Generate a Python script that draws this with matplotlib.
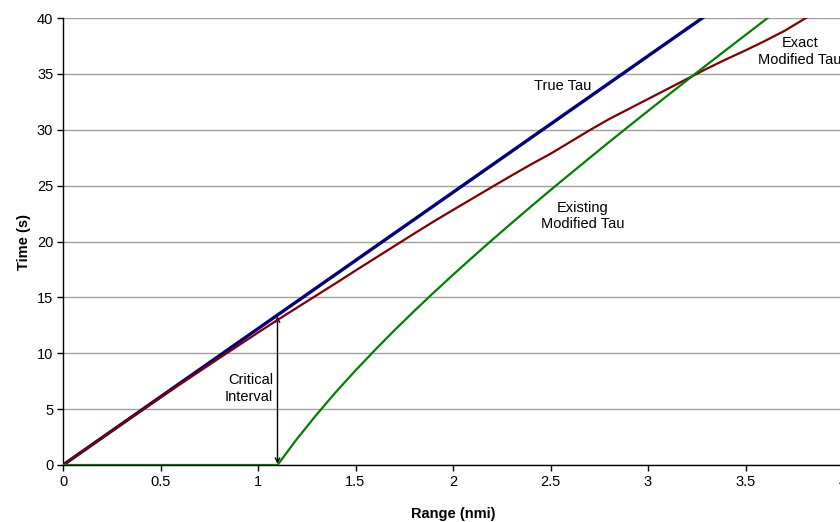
import matplotlib
matplotlib.use("Agg")
from matplotlib import pyplot as plt

plt.rcParams['font.family'] = ['Liberation Sans', 'DejaVu Sans']

# range (nmi)
rng = [0.0, 0.1, 0.2, 0.3, 0.4, 0.5, 0.6, 0.7, 0.8, 0.9, 1.0,
       1.1, 1.2, 1.3, 1.4, 1.5, 1.6, 1.7, 1.8, 1.9, 2.0,
       2.1, 2.2, 2.3, 2.4, 2.5, 2.6, 2.7, 2.8, 2.9, 3.0,
       3.1, 3.2, 3.3, 3.4, 3.5, 3.6, 3.7, 3.8, 3.9]

true_tau = [0.0, 1.22, 2.44, 3.66, 4.88, 6.1, 7.32, 8.54, 9.76, 10.98, 12.2,
            13.42, 14.64, 15.86, 17.08, 18.3, 19.52, 20.74, 21.96, 23.18, 24.4,
            25.62, 26.84, 28.06, 29.28, 30.5, 31.72, 32.94, 34.16, 35.38, 36.6,
            37.82, 39.04, 40.26, 41.48, 42.7, 43.92, 45.14, 46.36, 47.58]

exact_mod_tau = [0.0, 1.22, 2.43, 3.64, 4.83, 6.03, 7.22, 8.38, 9.55, 10.7, 11.85,
                 12.98, 14.08, 15.18, 16.28, 17.4, 18.5, 19.6, 20.7, 21.78, 22.82,
                 23.85, 24.88, 25.9, 26.9, 27.85, 28.9, 29.95, 30.95, 31.85, 32.75,
                 33.65, 34.55, 35.45, 36.3, 37.1, 37.95, 38.85, 39.9, 40.9]

existing_mod_tau = [0.0, 0.0, 0.0, 0.0, 0.0, 0.0, 0.0, 0.0, 0.0, 0.0, 0.0,
                    0.0, 2.34, 4.5, 6.54, 8.46, 10.29, 12.06, 13.76, 15.41, 17.02,
                    18.59, 20.13, 21.64, 23.13, 24.6, 26.04, 27.47, 28.89, 30.29, 31.68,
                    33.06, 34.43, 35.79, 37.14, 38.48, 39.82, 41.15, 42.48, 43.8]

fig = plt.figure(figsize=(8.4, 5.22), dpi=100)
ax = fig.add_axes([63 / 840, 57 / 522, 780 / 840, 447 / 522])

ax.plot(rng, true_tau, color='#000080', lw=2.4, zorder=3)
ax.plot(rng, exact_mod_tau, color='#800000', lw=1.6, zorder=4)
ax.plot(rng, existing_mod_tau, color='#008000', lw=1.6, zorder=5)

ax.set_xlim(0, 4)
ax.set_ylim(0, 40)
ax.set_xticks([0, 0.5, 1, 1.5, 2, 2.5, 3, 3.5, 4])
ax.set_xticklabels(['0', '0.5', '1', '1.5', '2', '2.5', '3', '3.5', '4'])
ax.set_yticks(range(0, 41, 5))
ax.grid(axis='y', color='#a0a0a0', lw=1)
ax.set_axisbelow(True)
for s in ['top', 'right']:
    ax.spines[s].set_visible(False)
for s in ['left', 'bottom']:
    ax.spines[s].set_color('black')
    ax.spines[s].set_linewidth(1)
ax.tick_params(direction='out', length=4, width=1, labelsize=10.5, pad=3)

ax.set_xlabel('Range (nmi)', fontsize=10.5, fontweight='bold', labelpad=13)
ax.set_ylabel('Time (s)', fontsize=10.5, fontweight='bold', labelpad=4)

ax.text(2.564, 33.9, 'True Tau', ha='center', va='center', fontsize=10.5)
ax.text(3.78, 37.0, 'Exact\nModified Tau', ha='center', va='center', fontsize=10.5)
ax.text(2.667, 22.3, 'Existing\nModified Tau', ha='center', va='center', fontsize=10.5)
ax.text(1.077, 6.85, 'Critical\nInterval', ha='right', va='center', fontsize=10.5)

ax.annotate('', xy=(1.1, 13.3), xytext=(1.1, 0.1),
            arrowprops=dict(arrowstyle='<->', color='black', lw=1,
                            mutation_scale=8, shrinkA=0, shrinkB=0))

fig.savefig('out.png', dpi=100)
